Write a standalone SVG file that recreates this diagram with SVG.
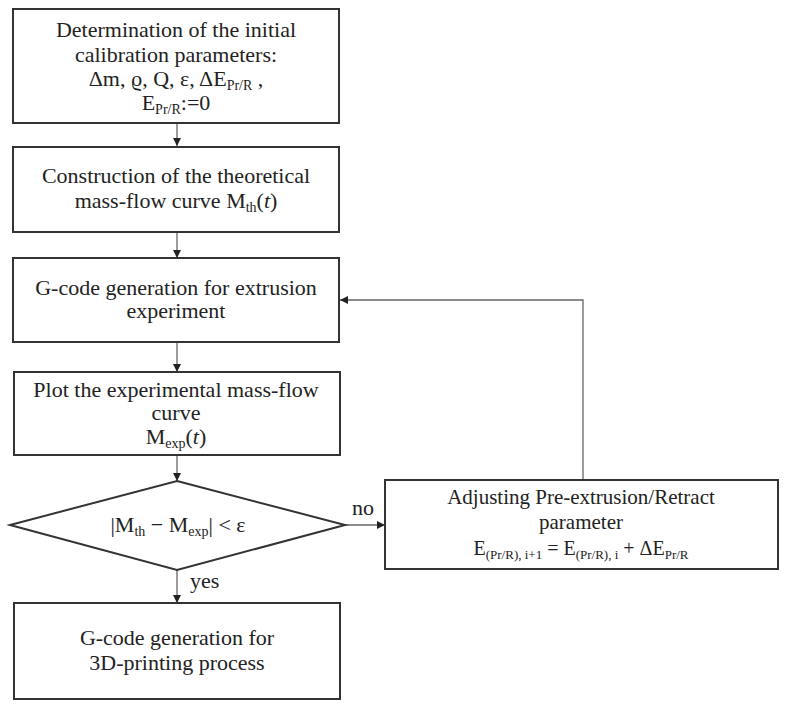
<svg xmlns="http://www.w3.org/2000/svg" width="785" height="707" viewBox="0 0 785 707">
  <style>
    .box { fill: #ffffff; stroke: #333333; stroke-width: 2; }
    .link { fill: none; stroke: #666666; stroke-width: 1.3; }
    text { font-family: "Liberation Serif", "Times New Roman", serif; font-size: 22px; fill: #222222; text-anchor: middle; }
    .sub { font-size: 14px; }
    .lbl { text-anchor: start; }
    .side { font-size: 21px; }
    .formula { font-size: 20px; }
    .formula .sub { font-size: 13px; }
  </style>
  <defs>
    <marker id="arrow" markerWidth="10" markerHeight="10" refX="9" refY="5" orient="auto" markerUnits="userSpaceOnUse">
      <path d="M1,1 L9,5 L1,9 Z" fill="#222222"/>
    </marker>
  </defs>
  <rect width="785" height="707" fill="#ffffff"/>

  <g id="connectors">
    <line class="link" x1="177" y1="123" x2="177" y2="146" marker-end="url(#arrow)"/>
    <line class="link" x1="177" y1="232" x2="177" y2="258" marker-end="url(#arrow)"/>
    <line class="link" x1="177" y1="342" x2="177" y2="372" marker-end="url(#arrow)"/>
    <line class="link" x1="177" y1="455" x2="177" y2="481" marker-end="url(#arrow)"/>
    <line class="link" x1="177" y1="570" x2="177" y2="603" marker-end="url(#arrow)"/>
    <line class="link" x1="345" y1="525" x2="385" y2="525" marker-end="url(#arrow)"/>
    <polyline class="link" points="583,480 583,300 340,300" marker-end="url(#arrow)"/>
    <text class="lbl" x="352" y="515">no</text>
    <text class="lbl" x="190" y="588">yes</text>
  </g>

  <g id="init">
    <rect class="box" x="13" y="9" width="326" height="114"/>
    <text x="176" y="37">Determination of the initial</text>
    <text x="176" y="62">calibration parameters:</text>
    <text x="176" y="86">Δm, ϱ, Q, ε, ΔE<tspan class="sub" dy="4">Pr/R</tspan><tspan dy="-4"> ,</tspan></text>
    <text x="176" y="110">E<tspan class="sub" dy="4">Pr/R</tspan><tspan dy="-4">:=0</tspan></text>
  </g>

  <g id="theory">
    <rect class="box" x="13" y="147" width="326" height="85"/>
    <text x="176" y="183">Construction of the theoretical</text>
    <text x="176" y="208">mass-flow curve M<tspan class="sub" dy="4">th</tspan><tspan dy="-4">(</tspan><tspan font-style="italic">t</tspan>)</text>
  </g>

  <g id="gcode-extrusion">
    <rect class="box" x="13" y="258" width="326" height="84"/>
    <text x="176" y="295">G-code generation for extrusion</text>
    <text x="176" y="318">experiment</text>
  </g>

  <g id="plot">
    <rect class="box" x="14" y="372" width="326" height="83"/>
    <text x="176" y="397">Plot the experimental mass-flow</text>
    <text x="176" y="420">curve</text>
    <text x="176" y="444">M<tspan class="sub" dy="4">exp</tspan><tspan dy="-4">(</tspan><tspan font-style="italic">t</tspan>)</text>
  </g>

  <g id="check">
    <polygon class="box" points="177,481 345,525 177,570 10,525"/>
    <text x="178" y="532">|M<tspan class="sub" dy="4">th</tspan><tspan dy="-4"> − M</tspan><tspan class="sub" dy="4">exp</tspan><tspan dy="-4">| &lt; ε</tspan></text>
  </g>

  <g id="gcode-printing">
    <rect class="box" x="14" y="603" width="326" height="96"/>
    <text x="177" y="645">G-code generation for</text>
    <text x="177" y="670">3D-printing process</text>
  </g>

  <g id="adjust">
    <rect class="box" x="385" y="480" width="393" height="89"/>
    <text class="side" x="581" y="504">Adjusting Pre-extrusion/Retract</text>
    <text class="side" x="581" y="529">parameter</text>
    <text class="formula" x="581" y="555">E<tspan class="sub" dy="4">(Pr/R), i+1</tspan><tspan dy="-4"> = E</tspan><tspan class="sub" dy="4">(Pr/R), i</tspan><tspan dy="-4"> + ΔE</tspan><tspan class="sub" dy="4">Pr/R</tspan></text>
  </g>
</svg>
